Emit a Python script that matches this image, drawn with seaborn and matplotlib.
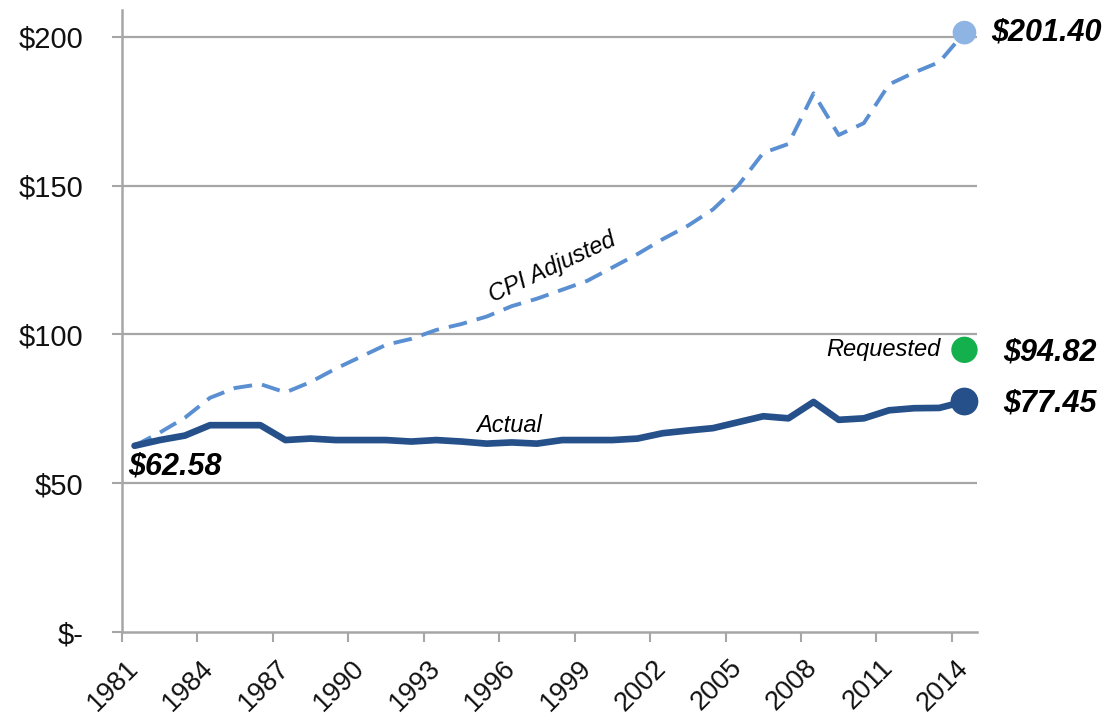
import numpy as np
import pandas as pd
import matplotlib
matplotlib.use('Agg')
import matplotlib.pyplot as plt
import seaborn as sns

# values
years = list(range(1981, 2015))
actual = [62.58, 64.5, 66.0, 69.5, 69.5, 69.5, 64.5, 65.0, 64.5, 64.5,
          64.5, 64.0, 64.5, 64.0, 63.3, 63.7, 63.3, 64.5, 64.5, 64.5,
          65.0, 66.8, 67.7, 68.5, 70.5, 72.5, 71.8, 77.3, 71.3, 71.8,
          74.5, 75.2, 75.3, 77.45]
cpi_adjusted = [62.58, 67.0, 72.0, 78.7, 82.0, 83.3, 80.5, 84.0, 88.5, 92.5,
                96.5, 98.5, 101.5, 103.5, 106.0, 109.5, 112.0, 115.0, 118.0, 122.5,
                127.0, 132.0, 136.5, 142.0, 150.0, 161.0, 164.0, 181.0, 167.0, 171.0,
                184.0, 188.0, 191.5, 201.40]
requested = 94.82
ytick_vals = [0, 50, 100, 150, 200]
ytick_labels = ['$-', '$50', '$100', '$150', '$200']
xtick_years = years[::3]

c_actual = '#25508A'
c_cpi = '#5A8FD2'
c_cpi_dot = '#8DB4E3'
c_req = '#14B04E'
c_grid = '#A6A6A6'

sns.set_theme(style='white')
plt.rcParams['font.family'] = ['Liberation Sans', 'DejaVu Sans']

df = pd.DataFrame({'year': years, 'actual': actual, 'cpi': cpi_adjusted})

fig = plt.figure(figsize=(11.08, 7.2), dpi=100)
ax = fig.add_axes([0.1101, 0.1222, 0.7717, 0.8639])

# gridlines
for v in ytick_vals[1:]:
    ax.axhline(v, color=c_grid, lw=1.6, zorder=0)

sns.lineplot(data=df, x='year', y='cpi', ax=ax, color=c_cpi, lw=2.8,
             dashes=False, zorder=2)
ax.lines[-1].set_dashes((4.8, 2.6))
sns.lineplot(data=df, x='year', y='actual', ax=ax, color=c_actual, lw=4.8, zorder=3)

# end-point dots
ends = pd.DataFrame({'year': [years[-1]] * 3,
                     'val': [cpi_adjusted[-1], requested, actual[-1]],
                     'kind': ['cpi', 'req', 'act']})
sns.scatterplot(data=ends, x='year', y='val', hue='kind', size='kind',
                palette={'cpi': c_cpi_dot, 'req': c_req, 'act': c_actual},
                sizes={'cpi': 290, 'req': 360, 'act': 400},
                edgecolor='none', legend=False, ax=ax, zorder=4, clip_on=False)

ax.set_xlim(1980.5, 2014.5)
ax.set_ylim(0, 209)

# y axis
ax.set_yticks(ytick_vals)
ax.set_yticklabels(ytick_labels, fontsize=21, color='#111111')
ax.tick_params(axis='y', length=7, width=1.5, color=c_grid, pad=21, left=True)

# x axis: tick marks at category boundaries, labels at centres
ax.set_xticks([y - 0.5 for y in xtick_years])
ax.set_xticklabels([])
ax.tick_params(axis='x', which='major', length=7, width=1.5, color=c_grid, bottom=True)
ax.set_xticks(xtick_years, minor=True)
ax.set_xticklabels([str(y) for y in xtick_years], minor=True, fontsize=19.5,
                   rotation=45, ha='right', va='center', rotation_mode='anchor',
                   color='#111111')
ax.tick_params(axis='x', which='minor', length=0, pad=23, bottom=True)

for s in ['top', 'right']:
    ax.spines[s].set_visible(False)
for s in ['left', 'bottom']:
    ax.spines[s].set_color(c_grid)
    ax.spines[s].set_linewidth(1.8)

ax.set_xlabel('')
ax.set_ylabel('')

# annotations
lab = dict(fontsize=22, fontweight='bold', style='italic', color='black', va='center')
ax.text(years[-1] + 1.05, cpi_adjusted[-1], '$201.40', clip_on=False, **lab)
ax.text(years[-1] + 1.55, requested - 0.8, '$94.82', clip_on=False, **lab)
ax.text(years[-1] + 1.55, actual[-1] - 0.6, '$77.45', clip_on=False, **lab)
ax.text(years[0] - 0.25, actual[0] - 7, '$62.58', **lab)

note = dict(fontsize=17, style='italic', color='black', va='center')
ax.text(years[-1] - 0.95, requested, 'Requested', ha='right', **note)
ax.text(1995.9, 69.3, 'Actual', ha='center', **note)
ax.text(1997.6, 122.5, 'CPI Adjusted', ha='center', rotation=25, **note)

fig.savefig('out.png', dpi=100)
